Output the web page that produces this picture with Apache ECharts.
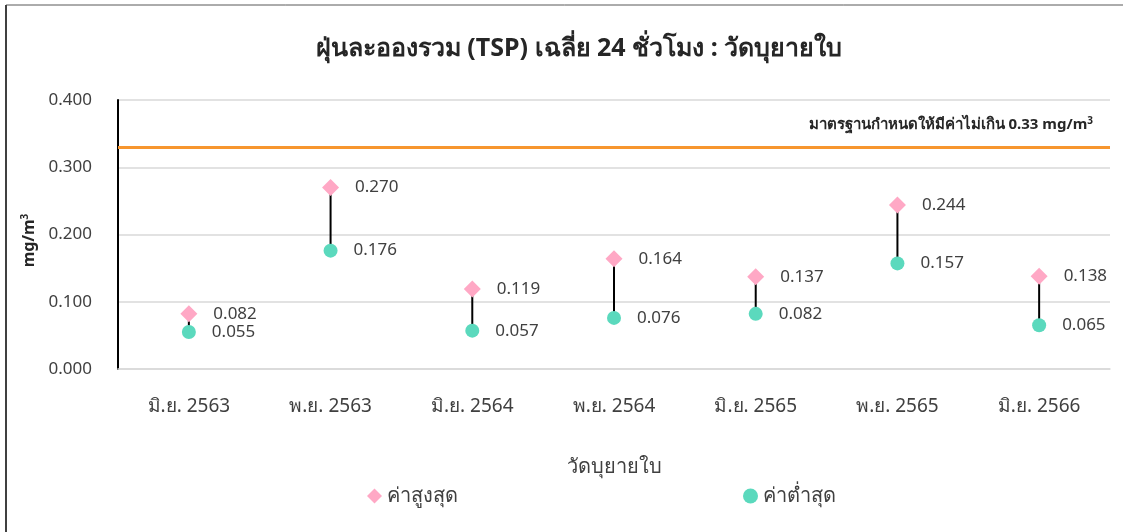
<!DOCTYPE html>
<html>
<head>
<meta charset="utf-8">
<script src="https://cdn.jsdelivr.net/npm/echarts@6/dist/echarts.min.js"></script>
<style>
  html, body { margin: 0; padding: 0; background: #fff; }
  #chart { width: 1133px; height: 532px; }
</style>
</head>
<body>
<div id="chart"></div>
<script>
var categories = ['มิ.ย. 2563', 'พ.ย. 2563', 'มิ.ย. 2564', 'พ.ย. 2564', 'มิ.ย. 2565', 'พ.ย. 2565', 'มิ.ย. 2566'];
var maxValues = [0.082, 0.270, 0.119, 0.164, 0.137, 0.244, 0.138];
var minValues = [0.055, 0.176, 0.057, 0.076, 0.082, 0.157, 0.065];
var standard = 0.33;

var font = '"Noto Sans", "DejaVu Sans", sans-serif';

var rangeData = categories.map(function (c, i) {
    return [i, maxValues[i], minValues[i]];
});

var myChart = echarts.init(document.getElementById('chart'));
var option = {
    animation: false,
    textStyle: { fontFamily: font },
    title: {
        text: 'ฝุ่นละอองรวม (TSP) เฉลี่ย 24 ชั่วโมง : วัดบุยายใบ',
        left: 574,
        top: 31,
        textAlign: 'center',
        textStyle: { fontSize: 25, fontWeight: 'bold', color: '#262626', fontFamily: font }
    },
    graphic: [
        { type: 'line', shape: { x1: 6, y1: 5, x2: 1123, y2: 5 }, style: { stroke: '#595959', lineWidth: 1 } },
        { type: 'line', shape: { x1: 6, y1: 5, x2: 6, y2: 532 }, style: { stroke: '#404040', lineWidth: 2 } }
    ],
    grid: { left: 118, right: 23, top: 100, bottom: 163 },
    legend: {
        bottom: 21,
        left: 362,
        itemGap: 285,
        itemWidth: 15,
        itemHeight: 15,
        textStyle: { fontSize: 20, color: '#404040', fontFamily: font },
        data: [
            { name: 'ค่าสูงสุด', icon: 'diamond' },
            { name: 'ค่าต่ำสุด', icon: 'circle' }
        ]
    },
    xAxis: {
        type: 'category',
        data: categories,
        name: 'วัดบุยายใบ',
        nameLocation: 'middle',
        nameGap: 88,
        nameTextStyle: { fontSize: 20, color: '#404040' },
        axisLine: { lineStyle: { color: '#d9d9d9', width: 1.5 } },
        axisTick: { show: false },
        axisLabel: { fontSize: 19, color: '#404040', margin: 28 }
    },
    yAxis: {
        type: 'value',
        min: 0,
        max: 0.4,
        interval: 0.1,
        name: 'mg/m{sup|3}',
        nameLocation: 'middle',
        nameGap: 78,
        nameRotate: 90,
        nameTextStyle: {
            fontSize: 16, fontWeight: 'bold', color: '#262626',
            padding: [0, 12, 0, 0],
            rich: { sup: { fontSize: 10, fontWeight: 'bold', verticalAlign: 'top', padding: [0, 0, 8, 0] } }
        },
        axisLine: { show: true, lineStyle: { color: '#000', width: 2 } },
        axisTick: { show: false },
        axisLabel: {
            fontSize: 17, color: '#404040', margin: 26,
            formatter: function (v) { return v.toFixed(3); }
        },
        splitLine: { lineStyle: { color: '#d9d9d9', width: 1.5 } }
    },
    series: [
        {
            type: 'custom',
            name: 'range',
            silent: true,
            z: 1,
            renderItem: function (params, api) {
                var top = api.coord([api.value(0), api.value(1)]);
                var bottom = api.coord([api.value(0), api.value(2)]);
                return {
                    type: 'line',
                    shape: { x1: top[0], y1: top[1], x2: bottom[0], y2: bottom[1] },
                    style: { stroke: '#000', lineWidth: 2 }
                };
            },
            encode: { x: 0, y: [1, 2] },
            data: rangeData
        },
        {
            type: 'scatter',
            name: 'ค่าสูงสุด',
            symbol: 'diamond',
            symbolSize: 17,
            z: 3,
            itemStyle: { color: '#ffa8c5', opacity: 1 },
            label: {
                show: true, position: 'right', distance: 16,
                fontSize: 17, color: '#404040',
                formatter: function (p) { return p.value.toFixed(3); }
            },
            data: maxValues
        },
        {
            type: 'scatter',
            name: 'ค่าต่ำสุด',
            symbol: 'circle',
            symbolSize: 14,
            z: 3,
            itemStyle: { color: '#5bd9bd', opacity: 1 },
            label: {
                show: true, position: 'right', distance: 16,
                fontSize: 17, color: '#404040',
                formatter: function (p) { return p.value.toFixed(3); }
            },
            data: minValues,
            markLine: {
                silent: true,
                symbol: 'none',
                lineStyle: { color: '#f7962f', width: 3, type: 'solid' },
                label: {
                    position: 'insideEndTop',
                    distance: [17, 14],
                    formatter: 'มาตรฐานกำหนดให้มีค่าไม่เกิน 0.33 mg/m{sup|3}',
                    fontSize: 15, fontWeight: 'bold', color: '#262626',
                    rich: { sup: { fontSize: 10, fontWeight: 'bold', verticalAlign: 'top', padding: [0, 0, 7, 0] } }
                },
                data: [{ yAxis: standard }]
            }
        }
    ]
};
myChart.setOption(option);

window.addEventListener('resize', function () {
    myChart.resize();
});
</script>
</body>
</html>
